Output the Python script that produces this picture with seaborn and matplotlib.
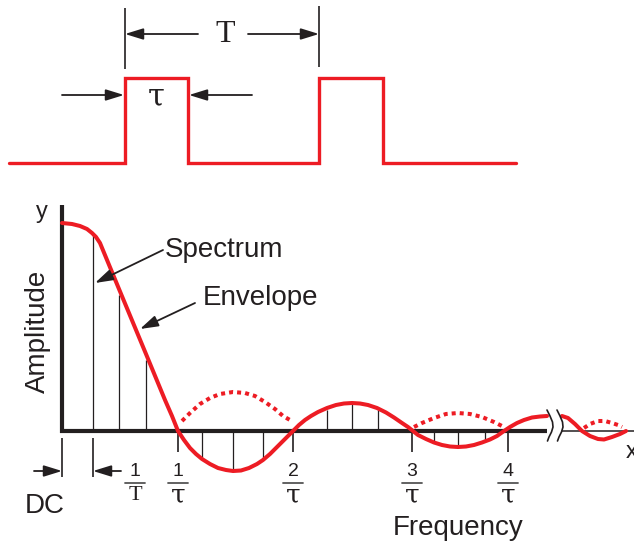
import numpy as np
import seaborn as sns
import matplotlib.pyplot as plt

RED = "#ed1c24"
INK = "#231f20"
BASE_Y = 431  # pixel row of the frequency axis
SANS = ["Liberation Sans", "DejaVu Sans"]
SERIF = ["Liberation Serif", "DejaVu Serif"]
TAU_FONT = ["DejaVu Serif"]

# Pulse train at the top (pixel coordinates)
pulse_x = [9, 125, 125, 188, 188, 319, 319, 383, 383, 516]
pulse_y = [163, 163, 78, 78, 163, 163, 78, 78, 163, 163]

# Envelope: x pixel, amplitude in px above the axis
env_x = [62, 72, 80, 87, 92, 96, 100, 119, 146, 165, 172, 178,
         184, 190, 196, 202, 210, 218, 226, 233, 241, 249, 257, 263, 270, 277, 285, 293,
         299, 305, 311, 318, 327, 336, 344, 352, 360, 368, 377, 386, 394, 402, 408, 413,
         418, 426, 434, 442, 450, 458, 466, 474, 482, 490, 497, 504,
         510, 517, 524, 532, 540, 547]
env_amp = [208, 207, 205, 202, 198, 194, 188, 142, 77, 31, 15, 0,
           -9, -17, -23, -28, -33, -37, -39, -40, -39.5, -37, -33, -29, -23, -16, -8, 0,
           6, 11, 15, 19, 23, 26, 27.5, 28, 27.5, 26, 23, 18.5, 13.5, 8, 4, 0,
           -4, -8, -11.5, -14, -15.5, -16, -15.5, -14, -11.5, -8.5, -5, 0,
           4, 8, 11, 13.5, 14.5, 15]

# Envelope after the axis break
tail_x = [562, 568, 575, 582, 590, 598, 604, 612, 620, 626]
tail_amp = [15, 13, 7, 0, -5, -8, -8.5, -6, -3, 0]

# Dotted mirrored lobes
mirror1_x = [182, 190, 200, 210, 220, 233, 245, 255, 265, 275, 283, 290]
mirror1_amp = [10, 18, 27, 33, 37, 39, 38, 35, 29, 22, 15, 11]
mirror3_x = [414, 422, 434, 446, 458, 470, 482, 494, 502]
mirror3_amp = [4, 8, 13, 17, 18, 17, 14, 9, 5]
mirror5_x = [584, 590, 598, 605, 612, 618, 622]
mirror5_amp = [3, 7, 10, 10, 8, 6, 4]

# Spectral lines (x pixel, amplitude)
line_x = [93, 119, 146, 202, 233, 263, 327, 352, 378, 434, 458, 485]
line_amp = [196, 136, 71, -28, -40, -27, 21, 27, 21, -11, -16, -10]

# Frequency tick marks and labels
tick_x = [178, 293, 412, 508]
tick_num = ["1", "2", "3", "4"]

sns.set_theme(style="white")
plt.rcParams["font.family"] = SANS

fig = plt.figure(figsize=(6.34, 5.44), dpi=100)
ax = fig.add_axes([0, 0, 1, 1])
ax.set_xlim(0, 634)
ax.set_ylim(544, 0)
ax.axis("off")


def to_y(amp):
    return BASE_Y - np.asarray(amp, dtype=float)


def arrow(x0, y0, x1, y1, lw=1.3):
    ax.annotate("", xy=(x1, y1), xytext=(x0, y0),
                arrowprops=dict(arrowstyle="-|>,head_length=1.1,head_width=0.34",
                                color=INK, lw=lw, shrinkA=0, shrinkB=0,
                                mutation_scale=10))


# --- top pulse train ---
sns.lineplot(x=pulse_x, y=pulse_y, sort=False, estimator=None, ax=ax,
             color=RED, linewidth=2.4, solid_joinstyle="miter")

# T dimension
ax.vlines([125, 319], [8, 6], [69, 67], color=INK, lw=1.2)
arrow(198, 34, 125, 34)
arrow(248, 34, 319, 34)
ax.text(225, 34, "T", family=SERIF, fontsize=23, ha="center", va="center", color=INK)

# tau dimension
arrow(62, 95, 124, 95)
arrow(252, 95, 189, 95)
ax.text(156, 97, "τ", family=TAU_FONT, fontsize=22, ha="center", va="center", color=INK)

# --- spectrum ---
ax.plot([60, 547], [BASE_Y, BASE_Y], color=INK, lw=3.0, solid_capstyle="butt", zorder=2)
ax.plot([562, 634], [BASE_Y, BASE_Y], color=INK, lw=1.1, zorder=2)
ax.plot([62, 62], [205, BASE_Y + 1.5], color=INK, lw=3.0, solid_capstyle="butt", zorder=2)

ax.vlines(line_x, BASE_Y, to_y(line_amp), color=INK, lw=0.9, zorder=1)
ax.vlines(tick_x, BASE_Y, BASE_Y + 21, color=INK, lw=1.2, zorder=1)

for xs, amps in [(env_x, env_amp), (tail_x, tail_amp)]:
    sns.lineplot(x=xs, y=to_y(amps), sort=False, estimator=None, ax=ax,
                 color=RED, linewidth=2.9, zorder=3)
for xs, amps in [(mirror1_x, mirror1_amp), (mirror3_x, mirror3_amp), (mirror5_x, mirror5_amp)]:
    sns.lineplot(x=xs, y=to_y(amps), sort=False, estimator=None, ax=ax,
                 color=RED, linewidth=2.9, linestyle=(0, (1.0, 1.0)),
                 dash_capstyle="butt", zorder=3)

# axis break marks
brk_dx = np.array([-3, 0, 2.5, 3, 1.5, -1, -2.5])
brk_dy = np.array([-16, -10, -4, 1, 6, 11, 15])
for bx in [550, 560]:
    ax.plot(bx + brk_dx, BASE_Y - 5 + brk_dy, color=INK, lw=1.2, zorder=4)

# DC and 1/T markers
ax.vlines([62, 93], 438, 477, color=INK, lw=1.2)
arrow(34, 471, 62, 471)
arrow(121, 471, 93, 471)

# fraction labels
for x, num in zip(tick_x, tick_num):
    ax.text(x, 471, num, fontsize=14, ha="center", va="center", color=INK)
    ax.plot([x - 10, x + 10], [483, 483], color="#555555", lw=1.3)
    ax.text(x, 495, "τ", family=TAU_FONT, fontsize=19, ha="center", va="center", color=INK)
ax.text(135, 471, "1", fontsize=14, ha="center", va="center", color=INK)
ax.plot([125, 145], [483, 483], color="#555555", lw=1.3)
ax.text(135, 496, "T", family=SERIF, fontsize=16, ha="center", va="center", color=INK)

# labels
ax.text(25, 513, "DC", fontsize=20, ha="left", va="baseline", color=INK)
ax.text(458, 535, "Frequency", fontsize=20, ha="center", va="baseline", color=INK)
ax.text(45, 331, "Amplitude", fontsize=20, rotation=90, rotation_mode="anchor",
        ha="center", va="baseline", color=INK)
ax.text(42, 218, "y", fontsize=17, ha="center", va="baseline", color=INK)
ax.text(626, 458, "x", fontsize=17, ha="left", va="baseline", color=INK)
ax.text(165, 257, "Spectrum", fontsize=20, ha="left", va="baseline", color=INK)
ax.text(203, 305, "Envelope", fontsize=20, ha="left", va="baseline", color=INK)
arrow(163, 250, 95, 283)
arrow(195, 303, 140, 329)

fig.savefig("out.png", dpi=100)
